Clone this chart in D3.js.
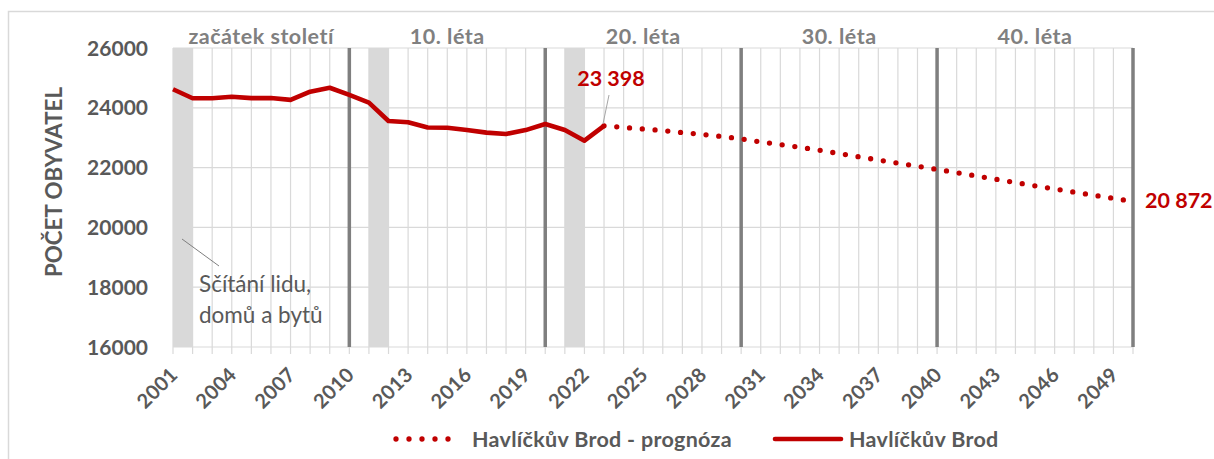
<!DOCTYPE html>
<html><head><meta charset="utf-8">
<script src="https://cdn.jsdelivr.net/npm/d3@7/dist/d3.min.js"></script>
<style>
html,body{margin:0;padding:0;background:#fff;}
svg text{font-family:Lato,"Open Sans",sans-serif;}
</style></head>
<body><svg id="c" width="1214" height="459"></svg>
<script>
const histYears = [2001,2002,2003,2004,2005,2006,2007,2008,2009,2010,2011,2012,2013,2014,2015,2016,2017,2018,2019,2020,2021,2022,2023];
const histValues = [24620,24320,24320,24370,24325,24325,24265,24540,24670,24430,24175,23560,23515,23340,23335,23260,23170,23125,23255,23460,23260,22900,23398];
const progYears = [2023,2024,2025,2026,2027,2028,2029,2030,2031,2032,2033,2034,2035,2036,2037,2038,2039,2040,2041,2042,2043,2044,2045,2046,2047,2048,2049,2050];
const progValues = [23398,23345,23290,23240,23170,23110,23040,22960,22860,22770,22680,22580,22470,22360,22255,22150,22045,21940,21830,21720,21610,21500,21390,21285,21180,21075,20970,20872];
const censusYears = [2001,2011,2021];
const decadeLines = [2010,2020,2030,2040,2050];
const decadeLabels = ["začátek století","10. léta","20. léta","30. léta","40. léta"];
const decadeCenters = [2005.5,2015,2025,2035,2045];
const yTicks = [16000,18000,20000,22000,24000,26000];
const xTickLabels = [2001,2004,2007,2010,2013,2016,2019,2022,2025,2028,2031,2034,2037,2040,2043,2046,2049];
const seriesNames = ["Havlíčkův Brod - prognóza","Havlíčkův Brod"];
const labelFirst = "23 398", labelLast = "20 872";
const noteLines = ["Sčítání lidu,","domů a bytů"];

const RED = "#c00000", DARK = "#595959", MID = "#7f7f7f", GRID = "#d9d9d9";
const svg = d3.select("#c");
const x = d3.scaleLinear().domain([2001,2050]).range([173,1133]);
const y = d3.scaleLinear().domain([16000,26000]).range([347,48]);
const allYears = d3.range(2001,2051);

// outer frame
svg.append("rect").attr("x",8.5).attr("y",11.5).attr("width",1230).attr("height",470)
  .attr("fill","none").attr("stroke",GRID).attr("stroke-width",1.5);

// census bands
svg.append("g").selectAll("rect").data(censusYears).join("rect")
  .attr("x",d=>x(d)).attr("width",d=>x(d+1)-x(d))
  .attr("y",y(26000)).attr("height",y(16000)-y(26000)).attr("fill",GRID);

// gridlines
const g = svg.append("g");
g.selectAll(".vg").data(allYears).join("line")
  .attr("x1",d=>x(d)).attr("x2",d=>x(d)).attr("y1",y(26000)).attr("y2",y(16000)+7)
  .attr("stroke",GRID).attr("stroke-width",1.2);
g.selectAll(".hg").data(yTicks).join("line")
  .attr("x1",x(2001)).attr("x2",x(2050)).attr("y1",d=>y(d)).attr("y2",d=>y(d))
  .attr("stroke",GRID).attr("stroke-width",1.2);

// decade lines
svg.append("g").selectAll("line").data(decadeLines).join("line")
  .attr("x1",d=>x(d)).attr("x2",d=>x(d)).attr("y1",y(26000)).attr("y2",y(16000))
  .attr("stroke",MID).attr("stroke-width",3.5);

// decade labels
svg.append("g").selectAll("text").data(decadeLabels).join("text")
  .attr("x",(d,i)=>x(decadeCenters[i])).attr("y",44).attr("text-anchor","middle")
  .attr("font-size",21.5).attr("letter-spacing",0.5).attr("font-weight",700).attr("fill","#808080").text(d=>d);

// y axis labels
svg.append("g").selectAll("text").data(yTicks).join("text")
  .attr("x",148).attr("y",d=>y(d)+7.5).attr("text-anchor","end")
  .attr("font-size",21).attr("font-weight",700).attr("fill",DARK).text(d=>d);

// y title
svg.append("text").attr("transform","translate(62,182) rotate(-90)")
  .attr("text-anchor","middle").attr("font-size",22.3).attr("font-weight",700)
  .attr("fill",DARK).text("POČET OBYVATEL");

// x labels
svg.append("g").selectAll("text").data(xTickLabels).join("text")
  .attr("transform",d=>`translate(${x(d)+6},376) rotate(-45)`)
  .attr("text-anchor","end").attr("font-size",20).attr("letter-spacing",0.3).attr("font-weight",700)
  .attr("fill",DARK).text(d=>d);

// series
const line = d3.line().x(d=>x(d[0])).y(d=>y(d[1]));
svg.append("path").datum(progYears.map((yr,i)=>[yr,progValues[i]]))
  .attr("d",line).attr("fill","none").attr("stroke",RED).attr("stroke-width",5.3)
  .attr("stroke-linecap","round").attr("stroke-dasharray","0 12.8");
svg.append("path").datum(histYears.map((yr,i)=>[yr,histValues[i]]))
  .attr("d",line).attr("fill","none").attr("stroke",RED).attr("stroke-width",4.6)
  .attr("stroke-linejoin","round");

// data labels
svg.append("line").attr("x1",609).attr("y1",95).attr("x2",x(2023)-1).attr("y2",y(histValues[histValues.length-1])-2)
  .attr("stroke","#a6a6a6").attr("stroke-width",1);
svg.append("text").attr("x",611).attr("y",86).attr("text-anchor","middle")
  .attr("font-size",21.5).attr("font-weight",700).attr("fill",RED).text(labelFirst);
svg.append("text").attr("x",x(2050)+12).attr("y",y(progValues[progValues.length-1])+7)
  .attr("font-size",21.5).attr("font-weight",700).attr("fill",RED).text(labelLast);

// census annotation
svg.append("line").attr("x1",182).attr("y1",239).attr("x2",219).attr("y2",266)
  .attr("stroke","#7f7f7f").attr("stroke-width",1);
svg.append("g").selectAll("text").data(noteLines).join("text")
  .attr("x",199).attr("y",(d,i)=>292+i*31).attr("font-size",22.5)
  .attr("fill",DARK).text(d=>d);

// legend
const lg = svg.append("g");
lg.append("line").attr("x1",396).attr("x2",461).attr("y1",439).attr("y2",439)
  .attr("stroke",RED).attr("stroke-width",5.3).attr("stroke-linecap","round").attr("stroke-dasharray","0 13");
lg.append("text").attr("x",472).attr("y",446.5).attr("font-size",21.5).attr("letter-spacing",0.3).attr("font-weight",700)
  .attr("fill",DARK).text(seriesNames[0]);
lg.append("line").attr("x1",775).attr("x2",841).attr("y1",439).attr("y2",439)
  .attr("stroke",RED).attr("stroke-width",4.6).attr("stroke-linecap","round");
lg.append("text").attr("x",849).attr("y",446.5).attr("font-size",21.5).attr("letter-spacing",0.3).attr("font-weight",700)
  .attr("fill",DARK).text(seriesNames[1]);
</script></body></html>
